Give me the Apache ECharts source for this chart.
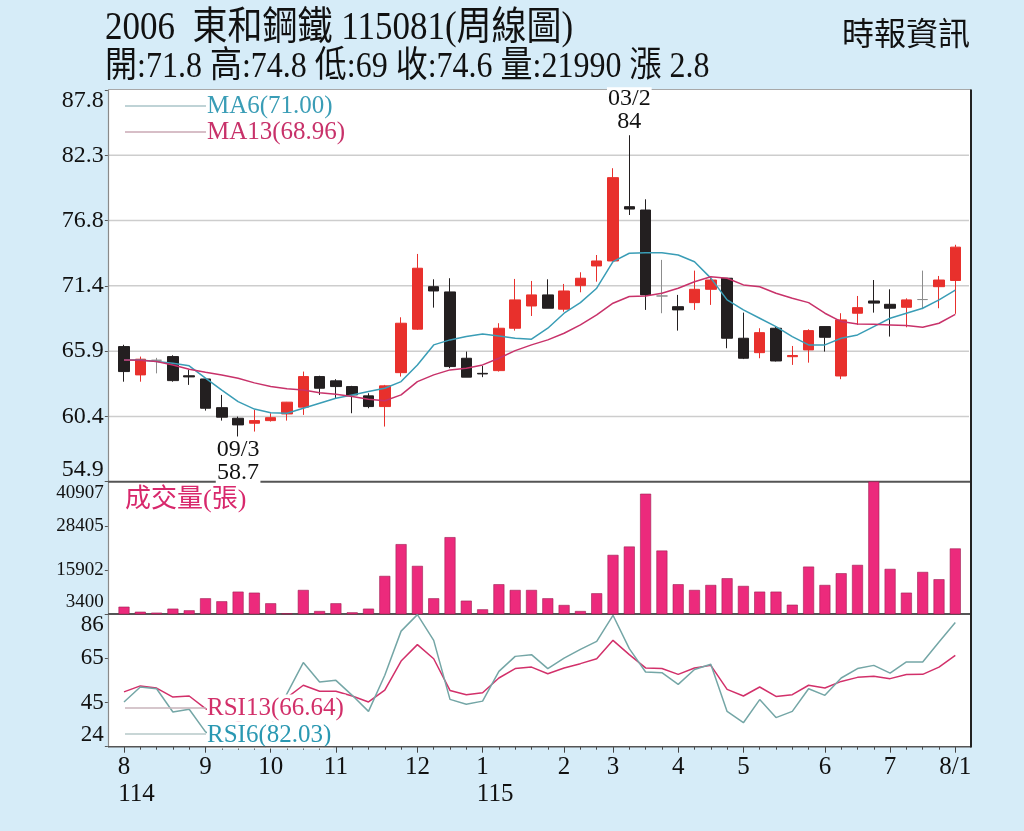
<!DOCTYPE html>
<html>
<head>
<meta charset="utf-8">
<script src="https://cdn.jsdelivr.net/npm/echarts@6/dist/echarts.min.js"></script>
<style>
html,body{margin:0;padding:0;background:#d6ecf8;}
#c{width:1024px;height:831px;}
</style>
</head>
<body>
<div id="c"></div>
<script>
// ---------- DATA ----------
const categories = [
  '114/08/1','114/08/2','114/08/3','114/08/4','114/08/5',
  '114/09/1','114/09/2','114/09/3','114/09/4',
  '114/10/1','114/10/2','114/10/3','114/10/4',
  '114/11/1','114/11/2','114/11/3','114/11/4','114/11/5',
  '114/12/1','114/12/2','114/12/3','114/12/4',
  '115/01/1','115/01/2','115/01/3','115/01/4','115/01/5',
  '115/02/1','115/02/2','115/02/3',
  '115/03/1','115/03/2','115/03/3','115/03/4',
  '115/04/1','115/04/2','115/04/3','115/04/4',
  '115/05/1','115/05/2','115/05/3','115/05/4','115/05/5',
  '115/06/1','115/06/2','115/06/3','115/06/4',
  '115/07/1','115/07/2','115/07/3','115/07/4',
  '115/08/1'
];
const opens  = [66.25,63.87,65.1,65.41,63.8,63.53,61.12,60.23,59.81,60.03,
                60.59,61.16,63.73,63.37,62.89,62.11,61.21,64.06,67.71,71.28,
                70.84,65.27,64.0,64.23,67.79,69.66,70.59,69.39,71.37,73.02,
                73.44,78.0,77.72,70.5,69.6,69.94,71.06,71.99,66.95,65.74,
                67.79,65.4,65.97,67.93,63.78,69.05,70.08,69.8,69.55,70.2,
                71.28,71.8];
const closes = [64.15,65.19,65.1,63.39,63.7,61.07,60.32,59.67,60.03,60.28,
                61.58,63.73,62.75,62.89,62.19,61.21,62.95,68.21,72.83,70.92,
                64.57,63.68,63.95,67.79,70.17,70.59,69.47,70.92,71.99,73.44,
                80.44,77.8,70.59,70.5,69.33,71.06,71.84,66.95,65.27,67.42,
                65.04,65.5,67.59,67.03,68.49,69.52,69.9,69.47,70.17,70.2,
                71.84,74.6];
const lows   = [63.3,63.3,64.0,63.3,63.03,60.87,60.03,58.7,59.11,59.95,
                60.03,60.51,62.19,61.91,60.65,61.07,59.53,63.73,67.65,69.52,
                64.43,63.68,63.68,64.15,67.59,68.82,69.47,69.18,70.81,71.7,
                73.38,77.3,69.33,69.05,67.59,69.33,69.75,66.11,65.2,65.27,
                65.0,64.71,64.9,65.83,63.51,68.07,69.1,67.09,67.87,69.39,
                69.47,69.0];
const highs  = [66.4,65.41,65.3,65.52,64.3,63.6,62.19,60.37,60.93,60.65,
                61.6,64.15,63.8,63.51,62.95,62.33,63.03,68.71,74.03,71.9,
                71.99,65.83,64.62,68.21,71.93,71.76,71.9,71.51,72.49,73.94,
                81.23,84,78.62,73.53,70.59,72.63,72.12,72.0,69.1,67.79,
                67.9,66.3,67.7,67.95,69.05,70.5,71.84,71.06,70.3,72.63,
                72.18,74.8];
const ma6    = [65.13,65.13,65.0,64.85,64.63,63.6,62.6,61.63,61.0,60.7,
                60.65,61.07,61.49,61.91,62.19,62.47,62.75,63.31,64.71,66.39,
                66.81,67.09,67.31,67.14,66.95,66.87,67.79,69.05,69.94,71.15,
                73.38,74.09,74.14,74.14,73.94,73.38,72.0,70.17,69.33,68.63,
                67.93,67.09,66.39,66.39,66.95,67.23,67.93,68.63,69.05,69.47,
                70.17,71.00];
const ma13   = [65.13,65.1,65.0,64.71,64.35,64.1,63.87,63.59,63.2,62.9,
                62.7,62.61,62.38,62.25,62.05,61.83,61.7,62.19,63.31,63.87,
                64.29,64.43,64.71,65.27,65.91,66.39,66.81,67.37,68.07,68.91,
                69.89,70.45,70.5,70.73,71.15,71.7,72.12,71.99,71.43,71.28,
                70.73,70.31,69.94,69.05,68.35,68.15,68.12,68.07,68.01,67.87,
                68.21,68.96];
const volumes = [5470,4050,3780,4920,4450,7860,7010,9740,9450,6440,
                 3590,10220,4250,6440,3880,4920,14200,23210,17040,7860,
                 25190,7180,4730,11840,10220,10220,7860,5960,4250,9280,
                 20160,22530,37500,21390,11840,10220,11640,13540,11360,9740,
                 9740,6040,16840,11640,14960,17320,45000,16190,9450,15330,
                 13260,21990];
const rsi6  = [44.9,51.9,51.1,40.2,41.5,30.9,27,25,30,34,
               48.8,63.3,54.2,55.0,48.0,40.5,57.4,78,85.7,73.7,
               46.1,43.8,45.3,59.2,66.2,67.0,60.5,65.4,69.5,73.2,
               85.4,69.8,58.9,58.6,53.1,60.1,62.5,40.5,35.2,46.0,
               37.6,40.5,51.1,48.0,56.1,60.5,62.0,58.4,63.6,63.6,
               72.9,82.03];
const rsi13 = [49.6,52.4,51.4,47.2,47.7,41.8,38,36,37,40,
               46.9,52.7,49.9,49.9,47.7,44.9,50.4,64,71.7,65.1,
               50.3,48.3,49.2,56.1,60.5,61.2,58.1,60.8,62.8,65.1,
               73.7,67.0,60.8,60.5,57.8,60.8,62.0,50.8,47.7,51.9,
               47.5,48.3,52.7,51.4,54.5,56.4,56.9,55.8,57.7,57.8,
               61.2,66.64];

const priceTicks = [54.9, 60.38333, 65.86667, 71.35, 76.83333, 82.31667, 87.8];
const priceTickLabels = ['54.9','60.4','65.9','71.4','76.8','82.3','87.8'];
const volTicks = [3400, 15902.33, 28404.67, 40907];
const volTickLabels = ['3400','15902','28405','40907'];
const rsiTicks = [24, 44.66667, 65.33333, 86];
const rsiTickLabels = ['24','45','65','86'];

const titleText = '2006  東和鋼鐵 115081(周線圖)';
const quoteText = '開:71.8 高:74.8 低:69 收:74.6 量:21990 漲 2.8';
const sourceText = '時報資訊';
const volTitle = '成交量(張)';
const lowMarkIndex = 7;
const highMarkIndex = 31;

// ---------- STYLE ----------
const SERIF = '"Liberation Serif","Times New Roman","Noto Sans CJK TC",serif';
const UP = '#e8302c', DOWN = '#231f20', DOJI = '#8c8c8c';
const MA6C = '#3a9db6', MA13C = '#c8326a';
const VOLC = '#ec2a7c';
const RSI6C = '#74a6a6', RSI13C = '#d2306a';
const TXT = '#111';

const L = 108, R = 971, TOP = 89.5, P1 = 481.7, P2 = 614, BOT = 746.7;

const chart = echarts.init(document.getElementById('c'), null, {renderer: 'canvas'});

function nearestIdx(v, ticks) {
  const span = ticks[ticks.length - 1] - ticks[0];
  for (let k = 0; k < ticks.length; k++) {
    if (Math.abs(v - ticks[k]) < span * 1e-4) return k;
  }
  return -1;
}
function yAxisCfg(gi, ticks, labels, fs) {
  const base = {fontFamily: SERIF, fontSize: fs, color: TXT};
  return {
    type: 'value', gridIndex: gi, min: ticks[0], max: ticks[ticks.length - 1],
    position: 'left', offset: 8,
    axisLine: {show: true, lineStyle: {color: '#8a8a8a', width: 1.2}},
    axisTick: {show: true, length: 3, customValues: ticks, lineStyle: {color: '#555'}},
    splitLine: {show: false},
    axisLabel: {
      customValues: ticks, margin: 4, fontFamily: SERIF, fontSize: fs, color: TXT,
      formatter: function (v) {
        const k = nearestIdx(v, ticks);
        if (k < 0) return '';
        if (k === 0) return '{b|' + labels[k] + '}';
        if (k === ticks.length - 1) return '{t|' + labels[k] + '}';
        return labels[k];
      },
      rich: {
        t: Object.assign({padding: [22, 0, 0, 0]}, base),
        b: Object.assign({padding: [0, 0, 24, 0]}, base)
      }
    }
  };
}

const gridLeft = 115.85, gridRight = 1024 - 963.45;

const candleData = opens.map(function (o, i) {
  const item = {value: [o, closes[i], lows[i], highs[i]]};
  if (o === closes[i]) {
    item.itemStyle = {color: DOJI, color0: DOJI, borderColor: DOJI, borderColor0: DOJI};
  }
  return item;
});

function isMonthStart(idx, val) { return String(val).slice(-2) === '/1'; }
function xLabel(val, idx) {
  const parts = String(val).split('/');
  const y = parts[0], m = +parts[1], w = parts[2];
  if (idx === categories.length - 1) return m + '/' + w;
  if (idx === 0 || m === 1) return '{m|' + m + '}\n{p|}{m|' + y + '}';
  return '{m|' + m + '}';
}

const option = {
  backgroundColor: '#d6ecf8',
  animation: false,
  grid: [
    {left: gridLeft, right: gridRight, top: 90, height: P1 - 90},
    {left: gridLeft, right: gridRight, top: P1, height: P2 - P1},
    {left: gridLeft, right: gridRight, top: P2, height: BOT - P2}
  ],
  xAxis: [
    {type: 'category', gridIndex: 0, data: categories, boundaryGap: true,
     axisLine: {show: false}, axisTick: {show: false}, axisLabel: {show: false}, splitLine: {show: false}},
    {type: 'category', gridIndex: 1, data: categories, boundaryGap: true,
     axisLine: {show: false}, axisTick: {show: false}, axisLabel: {show: false}, splitLine: {show: false}},
    {type: 'category', gridIndex: 2, data: categories, boundaryGap: true,
     axisLine: {show: false},
     axisTick: {show: true, alignWithLabel: true, interval: 0, length: 3, lineStyle: {color: '#444'}},
     axisLabel: {show: true, interval: isMonthStart, formatter: xLabel, margin: 7,
       fontFamily: SERIF, fontSize: 25, color: TXT, lineHeight: 27,
       rich: {m: {fontFamily: SERIF, fontSize: 25, color: TXT, lineHeight: 27}, p: {width: 25}}},
     splitLine: {show: false}},
    {type: 'category', gridIndex: 2, data: categories, boundaryGap: true, position: 'bottom',
     axisLine: {show: false},
     axisTick: {show: true, alignWithLabel: true, interval: isMonthStart, length: 6, lineStyle: {color: '#444'}},
     axisLabel: {show: false}, splitLine: {show: false}}
  ],
  yAxis: [
    yAxisCfg(0, priceTicks, priceTickLabels, 24),
    yAxisCfg(1, volTicks, volTickLabels, 19),
    yAxisCfg(2, rsiTicks, rsiTickLabels, 23)
  ],
  series: [
    {type: 'candlestick', name: 'K', xAxisIndex: 0, yAxisIndex: 0, data: candleData, barWidth: 11,
     itemStyle: {color: UP, color0: DOWN, borderColor: UP, borderColor0: DOWN, borderWidth: 1},
     markPoint: {
       symbol: 'circle', symbolSize: 0, silent: true,
       label: {show: true, color: TXT, fontFamily: SERIF, fontSize: 24, lineHeight: 23,
               backgroundColor: '#fff', padding: [0, 1]},
       data: [
         {coord: [categories[lowMarkIndex], lows[lowMarkIndex]],
          label: {position: 'bottom', distance: 2,
                  formatter: categories[lowMarkIndex].slice(4) + '\n' + lows[lowMarkIndex]}},
         {coord: [categories[highMarkIndex], highs[highMarkIndex]],
          label: {position: 'top', distance: 2,
                  formatter: categories[highMarkIndex].slice(4) + '\n' + highs[highMarkIndex]}}
       ]
     }},
    {type: 'line', name: 'MA6', xAxisIndex: 0, yAxisIndex: 0, data: ma6, symbol: 'none',
     lineStyle: {color: MA6C, width: 1.5}, z: 3},
    {type: 'line', name: 'MA13', xAxisIndex: 0, yAxisIndex: 0, data: ma13, symbol: 'none',
     lineStyle: {color: MA13C, width: 1.5}, z: 3},
    {type: 'bar', name: 'VOL', xAxisIndex: 1, yAxisIndex: 1, data: volumes, barWidth: 11,
     itemStyle: {color: VOLC, borderColor: '#9e1f52', borderWidth: 0.6}},
    {type: 'line', name: 'RSI13', xAxisIndex: 2, yAxisIndex: 2, data: rsi13, symbol: 'none',
     lineStyle: {color: RSI13C, width: 1.5}},
    {type: 'line', name: 'RSI6', xAxisIndex: 2, yAxisIndex: 2, data: rsi6, symbol: 'none',
     lineStyle: {color: RSI6C, width: 1.5}}
  ]
};
chart.setOption(option);

// ---------- graphics (frame, gridlines, titles, legends) ----------
const g = [];
g.push({type: 'rect', z: -3, shape: {x: L, y: TOP, width: R - L, height: BOT - TOP}, style: {fill: '#fff'}});
for (let k = 1; k < priceTicks.length - 1; k++) {
  const y = chart.convertToPixel({yAxisIndex: 0}, priceTicks[k]);
  g.push({type: 'line', z: -2, shape: {x1: L + 1, y1: y, x2: R - 2, y2: y},
          style: {stroke: '#cdcdcd', lineWidth: 1.5}});
}
function hline(y, color, w, z) {
  g.push({type: 'line', z: z, shape: {x1: L, y1: y, x2: R, y2: y}, style: {stroke: color, lineWidth: w}});
}
hline(TOP, '#a8a8a8', 1.2, 1);
hline(P1, '#555', 2, 1);
hline(P2, '#555', 2, 1);
hline(BOT, '#555', 1.5, 12);
g.push({type: 'line', z: 12, shape: {x1: R, y1: TOP, x2: R, y2: BOT + 0.7}, style: {stroke: '#222', lineWidth: 2}});

function txt(x, y, text, size, color, align, extra, sy) {
  const o = {type: 'text', z: 10, x: x, y: y, scaleY: sy || 1,
    style: Object.assign({text: text, fontFamily: SERIF, fontSize: size, fill: color,
                          align: align || 'left', verticalAlign: 'middle'}, extra || {})};
  g.push(o);
}
txt(105, 29, titleText, 35, TXT, 'left', null, 1.12);
txt(105, 67, quoteText, 32, TXT, 'left', null, 1.15);
txt(970, 37, sourceText, 32, TXT, 'right');

function legendLine(y, color) {
  g.push({type: 'line', z: 10, shape: {x1: 125, y1: y, x2: 206, y2: y}, style: {stroke: color, lineWidth: 1.5}});
}
legendLine(106, '#aac4c8');
txt(207, 106, 'MA6(' + ma6[ma6.length - 1].toFixed(2) + ')', 25, MA6C, 'left', {backgroundColor: '#fff'});
legendLine(132, '#caa8b4');
txt(207, 132, 'MA13(' + ma13[ma13.length - 1].toFixed(2) + ')', 25, MA13C, 'left', {backgroundColor: '#fff'});
txt(125, 500, volTitle, 26, '#d8286c');
legendLine(708, '#c9b4bb');
txt(207, 708, 'RSI13(' + rsi13[rsi13.length - 1].toFixed(2) + ')', 25, RSI13C, 'left',
    {backgroundColor: '#fff', padding: [1, 2, 1, 0]});
legendLine(734, '#b6c8c8');
txt(207, 735, 'RSI6(' + rsi6[rsi6.length - 1].toFixed(2) + ')', 25, '#2a98b2', 'left',
    {backgroundColor: '#fff', padding: [1, 2, 1, 0]});

chart.setOption({graphic: {elements: g}});
</script>
</body>
</html>
